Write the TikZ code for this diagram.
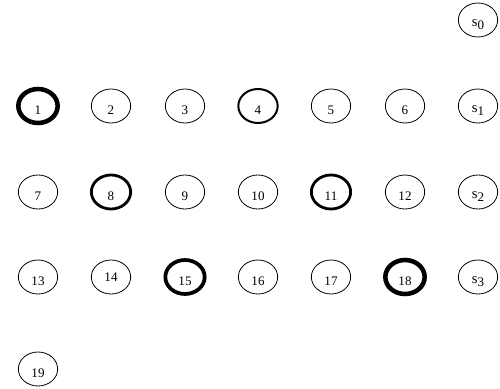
\documentclass[tikz,border=0pt]{standalone}
\usepackage{fontspec}
\setmainfont{Liberation Serif}
\usetikzlibrary{shapes.geometric}
\begin{document}
\begin{tikzpicture}[x=0.75pt,y=-0.75pt,
  st/.style={ellipse,draw,line width=0.6pt,minimum width=29.5pt,minimum height=25.5pt,inner sep=0pt,font=\fontsize{9.8}{12}\selectfont,text height=1.3em,text depth=0pt},
  sst/.style={st,font=\fontsize{11}{12}\selectfont,text height=1.0em},
  w1/.style={line width=1.5pt},
  w2/.style={line width=2.1pt},
  w3/.style={line width=2.8pt},
  w4/.style={line width=3.4pt}]
\useasboundingbox (0,0) rectangle (500,389);
\def\sl#1{s\raisebox{-0.45ex}{\fontsize{9.8}{10}\selectfont #1}}
\node[sst] (s0) at (478,20) {\sl{0}};
% row 1
\node[st,w4] (n1) at (38,106) {1};
\node[st] (n2) at (111,106) {2};
\node[st] (n3) at (185,106) {3};
\node[st,w1] (n4) at (258,106) {4};
\node[st] (n5) at (331,106) {5};
\node[st] (n6) at (405,106) {6};
\node[sst] (s1) at (478,106) {\sl{1}};
% row 2
\node[st] (n7) at (38,192) {7};
\node[st,w2] (n8) at (111,192) {8};
\node[st] (n9) at (185,192) {9};
\node[st] (n10) at (258,192) {10};
\node[st,w2] (n11) at (331,192) {11};
\node[st] (n12) at (405,192) {12};
\node[sst] (s2) at (478,192) {\sl{2}};
% row 3
\node[st] (n13) at (38,277) {13};
\node[st,text height=0.68em] (n14) at (111,277) {14};
\node[st,w3] (n15) at (185,277) {15};
\node[st] (n16) at (258,277) {16};
\node[st] (n17) at (331,277) {17};
\node[st,w4] (n18) at (405,277) {18};
\node[sst] (s3) at (478,277) {\sl{3}};
% row 4
\node[st] (n19) at (38,369) {19};
\end{tikzpicture}
\end{document}
